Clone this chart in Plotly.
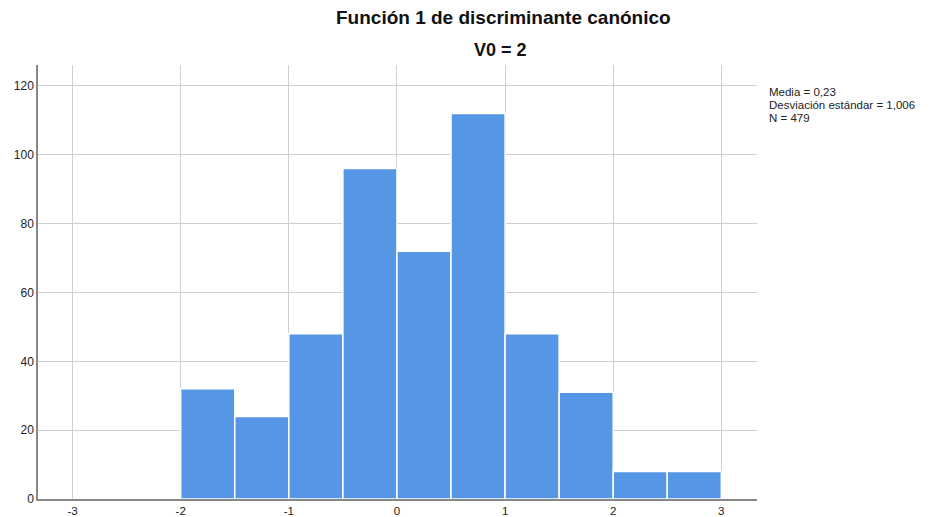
import plotly.graph_objects as go

bin_starts = [-2.0, -1.5, -1.0, -0.5, 0.0, 0.5, 1.0, 1.5, 2.0, 2.5]
counts = [32, 24, 48, 96, 72, 112, 48, 31, 8, 8]
bin_width = 0.5
x_ticks = [-3, -2, -1, 0, 1, 2, 3]
y_ticks = [0, 20, 40, 60, 80, 100, 120]
stats_lines = ["Media = 0,23", "Desviación estándar = 1,006", "N = 479"]
title_main = "Función 1 de discriminante canónico"
title_sub = "V0 = 2"

centers = [s + bin_width / 2 for s in bin_starts]

W, H = 932, 517
L, R, T, B = 38, 175, 65, 18
plot_w = W - L - R
plot_h = H - T - B


def px_x(x):
    return (x - L) / plot_w


def px_y(y):
    return (H - B - y) / plot_h


fig = go.Figure()
fig.add_trace(go.Bar(
    x=centers, y=counts, width=[bin_width] * len(counts),
    marker=dict(color="#5596E5", line=dict(color="white", width=1.5)),
    hoverinfo="x+y",
))

annotations = [
    dict(text="<b>" + title_main + "</b>", x=px_x(503), y=px_y(18),
         xref="paper", yref="paper", showarrow=False, yanchor="middle",
         font=dict(size=19, color="#111")),
    dict(text="<b>" + title_sub + "</b>", x=px_x(500), y=px_y(50),
         xref="paper", yref="paper", showarrow=False, yanchor="middle",
         font=dict(size=18, color="#111")),
]
for i, line in enumerate(stats_lines):
    annotations.append(dict(
        text=line, xref="paper", yref="paper",
        x=px_x(767), y=px_y(92 + 13 * i), showarrow=False,
        xanchor="left", yanchor="middle",
        font=dict(size=11.5, color="#222"),
    ))

fig.update_layout(
    width=W, height=H,
    margin=dict(l=L, r=R, t=T, b=B),
    paper_bgcolor="white", plot_bgcolor="white",
    showlegend=False,
    font=dict(family="Liberation Sans, Arial, sans-serif", size=12, color="#222"),
    xaxis=dict(
        range=[-3.32, 3.33], tickvals=x_ticks, ticktext=[str(v) for v in x_ticks],
        showgrid=True, gridcolor="#cfcfcf", gridwidth=1,
        showline=True, linecolor="#888", linewidth=1.5,
        zeroline=False, ticks="", automargin=False, layer="below traces",
        tickfont=dict(size=11.5, color="#222"), ticklabelstandoff=0,
    ),
    yaxis=dict(
        range=[0, 126.1], tickvals=y_ticks,
        showgrid=True, gridcolor="#cfcfcf", gridwidth=1,
        showline=True, linecolor="#888", linewidth=1.5,
        zeroline=False, ticks="", automargin=False,
        tickfont=dict(size=12, color="#222"),
    ),
    annotations=annotations,
)

fig.write_html("out.html", post_script="document.body.style.margin='0';",
               config={"displayModeBar": False})
